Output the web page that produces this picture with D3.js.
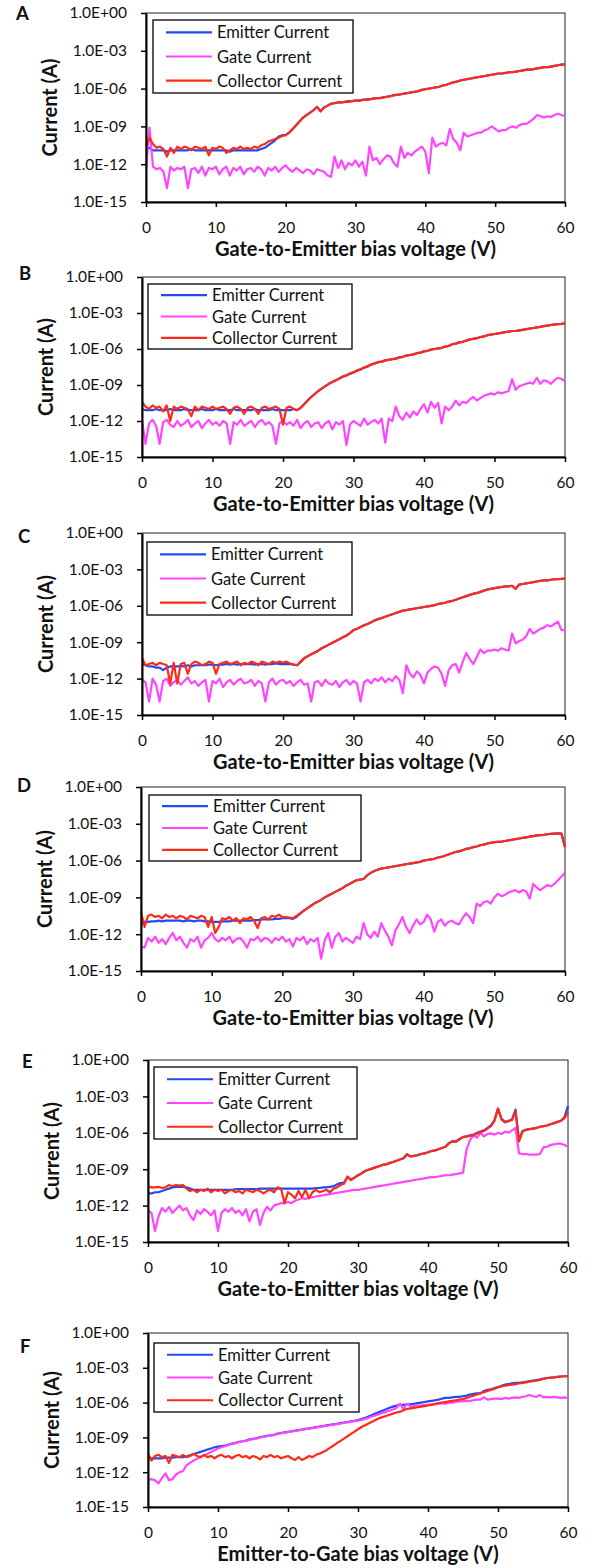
<!DOCTYPE html>
<html>
<head>
<meta charset="utf-8">
<script src="https://cdn.jsdelivr.net/npm/d3@7"></script>
<style>
  body { margin: 0; background: #fff; }
  svg text { font-family: Lato, "Open Sans", sans-serif; fill: #111; }
</style>
</head>
<body>
<svg id="fig" width="595" height="1568"></svg>
<script>
// sweep voltage, 0.5 V steps (121 points)
const voltage = d3.range(121).map(i => i * 0.5);

const xTickValues = [0, 10, 20, 30, 40, 50, 60];
const yTickValues = [1e-15, 1e-12, 1e-9, 1e-6, 1e-3, 1];
const yTickLabels = ["1.0E-15", "1.0E-12", "1.0E-09", "1.0E-06", "1.0E-03", "1.0E+00"];
const seriesNames = ["Emitter Current", "Gate Current", "Collector Current"];
const seriesColors = ["#2448f2", "#ff45ff", "#ff2b18"];
const panelLetters = ["A", "B", "C", "D", "E", "F"];
const xTitles = [
  "Gate-to-Emitter bias voltage (V)", "Gate-to-Emitter bias voltage (V)",
  "Gate-to-Emitter bias voltage (V)", "Gate-to-Emitter bias voltage (V)",
  "Gate-to-Emitter bias voltage (V)", "Emitter-to-Gate bias voltage (V)"
];

// currents as log10(A)
const emitterA = [
  -10.8,-10.7,-10.9,-10.9,-10.9,-10.9,-11.0,-10.9,-10.9,-10.9,
  -10.9,-10.9,-10.9,-10.8,-10.9,-10.9,-10.9,-10.9,-10.9,-10.9,
  -10.9,-10.9,-10.9,-10.9,-11.0,-10.9,-10.9,-10.9,-10.9,-10.9,
  -10.9,-10.9,-10.9,-10.8,-10.7,-10.5,-10.3,-10.1,-9.8,-9.7,
  -9.7,-9.5,-9.2,-8.9,-8.6,-8.3,-8.1,-7.9,-7.7,-7.45,
  -7.8,-7.5,-7.35,-7.2,-7.15,-7.1,-7.1,-7.05,-7.0,-7.0,
  -6.95,-6.95,-6.9,-6.85,-6.85,-6.8,-6.75,-6.75,-6.7,-6.65,
  -6.6,-6.5,-6.5,-6.45,-6.4,-6.35,-6.3,-6.25,-6.2,-6.1,
  -6.05,-6.0,-5.95,-5.9,-5.85,-5.75,-5.7,-5.6,-5.5,-5.45,
  -5.35,-5.3,-5.25,-5.2,-5.15,-5.1,-5.05,-5.0,-4.95,-4.9,
  -4.85,-4.8,-4.8,-4.75,-4.7,-4.7,-4.65,-4.6,-4.55,-4.5,
  -4.5,-4.45,-4.4,-4.35,-4.3,-4.3,-4.25,-4.2,-4.15,-4.1,
  -4.07
];
const gateA = [
  -12.3,-9.1,-12.2,-12.4,-12.3,-12.6,-13.9,-12.2,-12.5,-12.3,
  -12.4,-12.2,-13.9,-12.4,-12.3,-12.7,-12.2,-12.9,-12.3,-12.4,
  -12.2,-12.8,-12.4,-12.2,-12.9,-12.3,-12.5,-12.2,-12.8,-12.4,
  -12.3,-12.6,-12.2,-12.4,-12.9,-12.3,-12.5,-12.2,-12.6,-12.3,
  -12.1,-12.4,-12.6,-12.3,-12.5,-12.7,-12.4,-12.5,-12.8,-12.4,
  -12.5,-12.6,-12.9,-13.0,-11.4,-12.3,-11.7,-12.4,-11.9,-12.1,
  -11.7,-12.2,-11.8,-12.9,-10.6,-11.7,-11.5,-12.0,-11.6,-11.3,
  -11.4,-11.9,-12.2,-10.6,-11.5,-11.1,-11.3,-11.0,-10.8,-10.6,
  -11.0,-12.7,-9.9,-10.6,-10.4,-10.3,-10.5,-9.2,-10.0,-10.3,
  -10.9,-9.5,-9.8,-9.7,-9.6,-9.5,-9.5,-9.3,-9.2,-9.0,
  -9.2,-9.4,-9.3,-9.3,-9.1,-9.0,-9.1,-8.9,-8.8,-8.8,
  -8.6,-8.4,-8.1,-8.2,-8.3,-8.2,-8.25,-8.1,-8.0,-8.1,
  -8.2
];
const collectorA = [
  -10.5,-9.9,-10.4,-10.7,-10.6,-10.8,-11.4,-10.7,-11.1,-10.6,
  -10.8,-10.6,-10.7,-10.9,-10.6,-10.7,-10.8,-10.6,-11.3,-10.7,
  -10.8,-10.6,-10.7,-11.1,-10.9,-10.7,-10.8,-10.6,-10.8,-10.7,
  -10.8,-10.6,-10.7,-10.5,-10.4,-10.2,-10.1,-10.0,-9.9,-9.75,
  -9.7,-9.5,-9.2,-8.9,-8.6,-8.3,-8.1,-7.9,-7.7,-7.45,
  -7.8,-7.5,-7.35,-7.2,-7.15,-7.1,-7.1,-7.05,-7.05,-7.0,
  -6.95,-6.95,-6.9,-6.9,-6.85,-6.8,-6.75,-6.75,-6.7,-6.65,
  -6.6,-6.55,-6.5,-6.45,-6.4,-6.35,-6.3,-6.25,-6.2,-6.1,
  -6.05,-6.0,-5.95,-5.9,-5.85,-5.75,-5.7,-5.6,-5.5,-5.45,
  -5.35,-5.3,-5.25,-5.2,-5.15,-5.1,-5.05,-5.0,-4.95,-4.9,
  -4.85,-4.8,-4.8,-4.75,-4.7,-4.7,-4.65,-4.6,-4.55,-4.5,
  -4.5,-4.45,-4.4,-4.35,-4.3,-4.3,-4.25,-4.2,-4.15,-4.1,
  -4.07
];

const emitterB = [
  -11.0,-11.1,-11.1,-11.1,-11.0,-11.1,-11.1,-11.1,-11.0,-11.1,
  -11.1,-11.1,-11.0,-11.1,-11.1,-11.1,-11.1,-11.0,-11.1,-11.1,
  -11.1,-11.0,-11.1,-11.1,-11.1,-11.1,-11.0,-11.1,-11.1,-11.1,
  -11.1,-11.1,-11.0,-11.1,-11.1,-11.1,-11.1,-11.0,-11.1,-11.1,
  -11.1,-11.1,-11.1,-11.0,-11.1,-10.9,-10.6,-10.3,-10.0,-9.75,
  -9.5,-9.3,-9.1,-8.9,-8.75,-8.6,-8.45,-8.3,-8.2,-8.05,
  -7.95,-7.8,-7.7,-7.55,-7.45,-7.3,-7.2,-7.1,-7.05,-6.95,
  -6.9,-6.85,-6.8,-6.7,-6.65,-6.55,-6.5,-6.45,-6.35,-6.3,
  -6.2,-6.15,-6.05,-6.0,-5.95,-5.9,-5.8,-5.75,-5.6,-5.55,
  -5.45,-5.4,-5.3,-5.2,-5.15,-5.1,-5.0,-4.95,-4.85,-4.8,
  -4.75,-4.7,-4.65,-4.6,-4.55,-4.5,-4.5,-4.45,-4.4,-4.35,
  -4.3,-4.25,-4.2,-4.15,-4.1,-4.05,-4.0,-3.95,-3.93,-3.9,
  -3.86
];
const gateB = [
  -12.0,-13.9,-12.2,-11.9,-12.4,-13.9,-12.1,-11.9,-12.3,-12.5,
  -12.0,-12.4,-12.2,-11.9,-12.5,-12.2,-12.0,-12.6,-12.2,-11.9,
  -12.3,-12.1,-12.4,-12.0,-12.2,-13.9,-12.1,-12.3,-11.9,-12.4,
  -12.2,-12.0,-12.5,-12.1,-11.9,-12.3,-12.1,-12.4,-13.9,-12.2,
  -12.0,-12.3,-12.1,-12.4,-11.9,-12.6,-12.2,-12.0,-12.5,-12.2,
  -12.1,-12.6,-12.2,-12.0,-12.7,-12.1,-12.3,-12.0,-14.0,-12.3,
  -12.0,-12.2,-12.4,-11.8,-12.3,-12.1,-11.9,-12.2,-11.8,-13.8,
  -11.8,-12.0,-10.8,-11.6,-11.9,-11.3,-11.7,-11.2,-11.5,-11.0,
  -10.6,-11.3,-10.4,-10.9,-10.5,-12.2,-10.8,-11.1,-10.8,-10.3,
  -10.7,-10.4,-10.5,-10.2,-10.0,-10.3,-10.1,-9.9,-9.8,-9.7,
  -9.8,-9.6,-9.7,-9.6,-9.5,-8.5,-9.4,-9.1,-9.0,-8.9,
  -8.8,-8.9,-8.4,-8.9,-8.6,-8.7,-8.9,-8.6,-8.4,-8.5,
  -8.7
];
const collectorB = [
  -10.4,-10.8,-11.0,-10.7,-10.9,-10.8,-11.2,-10.7,-12.0,-10.8,
  -11.0,-10.8,-10.9,-11.0,-11.6,-10.8,-11.1,-10.8,-10.9,-11.0,
  -10.8,-11.0,-10.9,-10.8,-11.0,-11.4,-10.9,-10.8,-11.0,-11.4,
  -10.9,-10.8,-11.0,-11.4,-10.9,-10.8,-11.0,-10.9,-10.8,-11.0,
  -12.3,-10.9,-10.8,-11.0,-11.1,-10.9,-10.6,-10.3,-10.0,-9.75,
  -9.5,-9.3,-9.1,-8.9,-8.75,-8.6,-8.45,-8.3,-8.2,-8.05,
  -7.95,-7.8,-7.7,-7.55,-7.45,-7.3,-7.2,-7.1,-7.05,-6.95,
  -6.9,-6.85,-6.8,-6.7,-6.65,-6.55,-6.5,-6.45,-6.35,-6.3,
  -6.2,-6.15,-6.05,-6.0,-5.95,-5.9,-5.8,-5.75,-5.6,-5.55,
  -5.45,-5.4,-5.3,-5.2,-5.15,-5.1,-5.0,-4.95,-4.85,-4.8,
  -4.75,-4.7,-4.65,-4.6,-4.55,-4.5,-4.5,-4.45,-4.4,-4.35,
  -4.3,-4.25,-4.2,-4.15,-4.1,-4.05,-4.0,-3.95,-3.93,-3.9,
  -3.86
];

const emitterC = [
  -10.8,-10.9,-11.0,-11.0,-11.1,-11.1,-11.3,-11.1,-11.0,-11.0,
  -11.0,-10.95,-11.0,-10.9,-11.0,-10.9,-10.9,-10.9,-10.9,-10.85,
  -10.85,-10.9,-10.85,-10.85,-10.8,-10.85,-10.8,-10.85,-10.8,-10.8,
  -10.8,-10.8,-10.85,-10.8,-10.8,-10.85,-10.8,-10.8,-10.75,-10.8,
  -10.8,-10.8,-10.8,-10.85,-10.9,-10.65,-10.35,-10.15,-10.0,-9.85,
  -9.7,-9.5,-9.35,-9.2,-9.05,-8.9,-8.75,-8.6,-8.45,-8.25,
  -8.0,-7.9,-7.75,-7.6,-7.5,-7.35,-7.2,-7.1,-7.0,-6.9,
  -6.8,-6.7,-6.6,-6.5,-6.4,-6.35,-6.3,-6.25,-6.2,-6.15,
  -6.1,-6.05,-6.0,-5.95,-5.85,-5.8,-5.75,-5.65,-5.6,-5.5,
  -5.4,-5.3,-5.2,-5.1,-5.0,-4.95,-4.85,-4.75,-4.65,-4.6,
  -4.55,-4.5,-4.45,-4.4,-4.4,-4.35,-4.6,-4.25,-4.2,-4.15,
  -4.1,-4.05,-4.0,-3.95,-3.9,-3.9,-3.85,-3.8,-3.8,-3.78,
  -3.75
];
const gateC = [
  -12.1,-12.3,-13.9,-12.0,-12.5,-13.9,-12.2,-12.0,-12.6,-12.3,
  -12.1,-12.5,-12.2,-11.9,-12.4,-12.2,-12.6,-12.3,-12.1,-13.9,
  -12.2,-12.4,-12.0,-12.7,-12.3,-12.1,-12.5,-12.2,-12.0,-12.4,
  -12.3,-12.1,-12.6,-12.2,-12.4,-13.9,-12.3,-12.0,-12.5,-12.2,
  -12.1,-12.4,-12.2,-12.6,-12.3,-12.1,-12.5,-12.4,-13.9,-12.3,
  -12.2,-12.6,-12.1,-12.4,-12.5,-12.2,-12.7,-12.3,-12.1,-12.5,
  -12.2,-12.4,-13.9,-12.3,-12.1,-12.4,-12.0,-12.2,-11.9,-12.3,
  -12.0,-12.2,-11.8,-12.1,-13.2,-10.9,-11.6,-11.9,-11.4,-11.7,
  -12.4,-11.5,-11.2,-11.0,-11.1,-11.6,-12.6,-11.3,-10.9,-10.8,
  -11.5,-10.6,-9.9,-10.4,-10.8,-10.2,-9.6,-9.9,-9.7,-9.7,
  -9.6,-9.7,-9.5,-9.6,-9.7,-8.3,-9.1,-8.9,-8.8,-8.5,
  -7.9,-8.3,-8.1,-7.9,-7.8,-7.6,-7.7,-7.5,-7.3,-8.0,
  -8.0
];
const collectorC = [
  -10.3,-10.9,-10.8,-10.7,-10.9,-10.7,-10.8,-10.9,-12.4,-10.7,
  -12.4,-10.8,-10.7,-11.6,-10.8,-10.6,-10.7,-10.9,-10.8,-10.6,
  -10.7,-11.6,-10.8,-10.7,-10.6,-10.8,-10.7,-10.6,-10.9,-10.7,
  -10.8,-10.6,-10.7,-10.9,-10.6,-10.7,-10.8,-10.6,-10.7,-10.6,
  -10.7,-10.6,-10.75,-10.85,-10.9,-10.6,-10.3,-10.15,-10.0,-9.85,
  -9.7,-9.5,-9.35,-9.2,-9.05,-8.9,-8.75,-8.6,-8.45,-8.25,
  -8.0,-7.9,-7.75,-7.6,-7.5,-7.35,-7.2,-7.1,-7.0,-6.9,
  -6.8,-6.7,-6.6,-6.5,-6.4,-6.35,-6.3,-6.25,-6.2,-6.15,
  -6.1,-6.05,-6.0,-5.95,-5.85,-5.8,-5.75,-5.65,-5.6,-5.5,
  -5.4,-5.3,-5.2,-5.1,-5.0,-4.95,-4.85,-4.75,-4.65,-4.6,
  -4.55,-4.5,-4.45,-4.4,-4.4,-4.35,-4.6,-4.25,-4.2,-4.15,
  -4.1,-4.05,-4.0,-3.95,-3.9,-3.9,-3.85,-3.8,-3.8,-3.78,
  -3.75
];

const emitterD = [
  -11.2,-11.0,-11.0,-10.95,-10.95,-10.9,-10.95,-10.9,-10.9,-10.9,
  -10.9,-10.9,-10.95,-10.9,-10.9,-10.95,-10.9,-10.9,-10.95,-10.95,
  -11.0,-11.0,-11.0,-10.95,-10.95,-10.95,-10.9,-10.9,-10.9,-10.9,
  -10.9,-10.9,-10.85,-10.85,-10.8,-10.8,-10.8,-10.8,-10.75,-10.75,
  -10.7,-10.7,-10.7,-10.75,-10.6,-10.35,-10.1,-9.9,-9.7,-9.5,
  -9.35,-9.2,-9.0,-8.85,-8.7,-8.55,-8.4,-8.25,-8.05,-7.9,
  -7.75,-7.6,-7.55,-7.5,-7.2,-7.0,-6.85,-6.75,-6.65,-6.6,
  -6.55,-6.5,-6.45,-6.4,-6.35,-6.3,-6.25,-6.2,-6.15,-6.1,
  -6.0,-5.95,-5.9,-5.85,-5.75,-5.7,-5.6,-5.5,-5.4,-5.3,
  -5.25,-5.15,-5.05,-5.0,-4.9,-4.85,-4.75,-4.7,-4.6,-4.55,
  -4.5,-4.47,-4.45,-4.4,-4.35,-4.3,-4.25,-4.2,-4.15,-4.1,
  -4.05,-4.0,-3.95,-3.92,-3.9,-3.85,-3.82,-3.8,-3.78,-3.8,
  -4.9
];
const gateD = [
  -13.0,-13.1,-12.3,-12.6,-12.2,-12.7,-12.4,-12.8,-12.3,-11.9,
  -12.5,-12.2,-12.7,-13.1,-12.4,-12.6,-12.2,-13.1,-12.5,-12.3,
  -11.9,-12.4,-12.6,-12.3,-12.5,-12.2,-12.7,-12.4,-12.3,-12.6,
  -13.1,-12.4,-12.5,-12.2,-12.6,-12.3,-12.4,-12.7,-12.3,-12.5,
  -12.2,-12.6,-12.4,-13.0,-12.3,-12.5,-12.2,-12.8,-12.4,-12.6,
  -12.3,-14.0,-12.5,-11.9,-13.1,-12.2,-11.9,-12.6,-12.3,-12.5,
  -12.7,-12.2,-12.4,-11.1,-12.0,-12.3,-11.8,-12.2,-11.1,-11.7,
  -12.2,-12.9,-11.7,-11.2,-10.6,-11.4,-11.9,-11.3,-10.8,-11.2,
  -11.0,-10.4,-10.8,-11.8,-11.0,-10.8,-11.3,-11.0,-10.9,-11.1,
  -11.2,-10.7,-10.3,-10.6,-11.1,-9.5,-9.7,-9.4,-9.3,-9.5,
  -9.0,-8.7,-8.9,-8.8,-8.6,-8.5,-8.4,-8.6,-8.4,-8.5,
  -9.1,-7.9,-8.2,-8.4,-8.2,-8.0,-8.1,-7.9,-7.6,-7.3,
  -7.0
];
const collectorD = [
  -10.2,-11.4,-10.5,-10.4,-10.6,-10.5,-10.7,-10.4,-10.6,-10.5,
  -10.7,-10.5,-10.6,-10.8,-10.5,-10.6,-10.7,-10.5,-10.6,-11.4,
  -10.6,-11.9,-11.4,-10.7,-10.8,-10.6,-10.9,-10.7,-11.1,-10.7,
  -10.8,-10.6,-10.9,-11.5,-10.7,-10.6,-10.8,-10.5,-10.6,-10.4,
  -10.6,-10.6,-10.65,-10.7,-10.5,-10.3,-10.1,-9.9,-9.7,-9.5,
  -9.35,-9.2,-9.0,-8.85,-8.7,-8.55,-8.4,-8.25,-8.05,-7.9,
  -7.75,-7.6,-7.55,-7.5,-7.2,-7.0,-6.85,-6.75,-6.65,-6.6,
  -6.55,-6.5,-6.45,-6.4,-6.35,-6.3,-6.25,-6.2,-6.15,-6.1,
  -6.0,-5.95,-5.9,-5.85,-5.75,-5.7,-5.6,-5.5,-5.4,-5.3,
  -5.25,-5.15,-5.05,-5.0,-4.9,-4.85,-4.75,-4.7,-4.6,-4.55,
  -4.5,-4.47,-4.45,-4.4,-4.35,-4.3,-4.25,-4.2,-4.15,-4.1,
  -4.05,-4.0,-3.95,-3.92,-3.9,-3.85,-3.82,-3.8,-3.78,-3.8,
  -4.9
];

const emitterE = [
  -11.0,-11.0,-10.9,-10.9,-10.8,-10.7,-10.6,-10.5,-10.45,-10.45,
  -10.45,-10.5,-10.6,-10.7,-10.7,-10.7,-10.7,-10.7,-10.7,-10.7,
  -10.7,-10.7,-10.7,-10.7,-10.7,-10.65,-10.65,-10.65,-10.65,-10.65,
  -10.65,-10.65,-10.6,-10.6,-10.6,-10.6,-10.6,-10.6,-10.6,-10.6,
  -10.6,-10.6,-10.6,-10.6,-10.6,-10.6,-10.6,-10.6,-10.55,-10.55,
  -10.5,-10.5,-10.45,-10.4,-10.25,-10.15,-10.1,-9.65,-9.85,-9.7,
  -9.5,-9.35,-9.15,-9.05,-8.95,-8.85,-8.75,-8.65,-8.6,-8.5,
  -8.4,-8.3,-8.2,-8.1,-7.8,-7.95,-7.9,-7.85,-7.75,-7.7,
  -7.6,-7.5,-7.45,-7.35,-7.25,-7.15,-6.85,-6.7,-6.7,-6.5,
  -6.35,-6.3,-6.2,-6.15,-6.0,-5.9,-5.8,-5.6,-5.4,-4.95,
  -4.0,-4.85,-5.1,-5.0,-4.9,-4.1,-6.6,-5.85,-5.75,-5.7,
  -5.65,-5.6,-5.5,-5.45,-5.4,-5.3,-5.2,-5.1,-5.0,-4.7,
  -3.8
];
const gateE = [
  -12.4,-12.6,-14.1,-12.9,-12.2,-12.5,-12.1,-12.6,-12.3,-12.0,
  -12.4,-12.2,-12.8,-13.2,-12.4,-12.7,-12.3,-12.5,-12.8,-12.4,
  -14.1,-12.6,-12.3,-12.5,-12.2,-12.6,-12.4,-12.8,-12.3,-13.3,
  -12.5,-12.3,-13.6,-12.6,-12.1,-12.4,-12.0,-11.9,-11.8,-11.8,
  -11.7,-11.8,-11.6,-11.5,-11.4,-11.45,-11.35,-11.3,-11.25,-11.2,
  -11.15,-11.1,-11.05,-11.0,-10.95,-10.9,-10.85,-10.8,-10.75,-10.7,
  -10.7,-10.65,-10.6,-10.55,-10.5,-10.45,-10.4,-10.35,-10.3,-10.25,
  -10.2,-10.15,-10.1,-10.05,-10.0,-9.95,-9.9,-9.85,-9.8,-9.75,
  -9.7,-9.65,-9.65,-9.6,-9.55,-9.5,-9.5,-9.45,-9.4,-9.35,
  -9.3,-7.4,-6.6,-6.2,-6.4,-6.0,-6.3,-6.1,-6.05,-6.15,
  -6.0,-6.1,-5.9,-6.0,-5.8,-5.6,-7.7,-7.75,-7.75,-7.8,
  -7.8,-7.8,-7.75,-7.2,-7.15,-7.0,-6.95,-6.9,-6.9,-7.0,
  -7.15
];
const collectorE = [
  -10.4,-10.5,-10.5,-10.45,-10.55,-10.5,-10.3,-10.4,-10.3,-10.35,
  -10.3,-10.6,-10.8,-10.7,-10.9,-10.7,-10.8,-10.6,-10.9,-10.7,
  -10.8,-10.7,-11.0,-10.8,-10.7,-10.9,-10.8,-11.0,-10.7,-10.8,
  -10.9,-10.7,-10.8,-11.0,-10.8,-10.7,-10.9,-10.5,-10.6,-11.8,
  -10.9,-11.1,-11.4,-10.8,-11.3,-10.7,-11.4,-10.9,-10.7,-10.9,
  -10.8,-10.7,-10.9,-10.6,-10.5,-10.3,-10.2,-9.6,-9.9,-9.7,
  -9.5,-9.35,-9.15,-9.05,-8.95,-8.85,-8.75,-8.65,-8.6,-8.5,
  -8.4,-8.3,-8.2,-8.1,-7.75,-7.95,-7.9,-7.85,-7.75,-7.7,
  -7.6,-7.5,-7.45,-7.35,-7.25,-7.15,-6.85,-6.7,-6.75,-6.55,
  -6.35,-6.3,-6.25,-6.2,-6.05,-5.95,-5.85,-5.65,-5.45,-5.0,
  -4.0,-4.9,-5.15,-5.05,-4.95,-4.25,-6.7,-5.9,-5.75,-5.7,
  -5.65,-5.6,-5.5,-5.45,-5.4,-5.3,-5.2,-5.1,-5.0,-4.8,
  -4.3
];

const emitterF = [
  -10.8,-10.8,-10.8,-10.8,-10.8,-10.75,-10.75,-10.75,-10.7,-10.7,
  -10.7,-10.65,-10.55,-10.45,-10.35,-10.25,-10.15,-10.05,-9.95,-9.85,
  -9.8,-9.75,-9.7,-9.62,-9.53,-9.47,-9.38,-9.33,-9.27,-9.17,
  -9.12,-9.07,-8.97,-8.92,-8.87,-8.82,-8.77,-8.67,-8.62,-8.57,
  -8.52,-8.47,-8.42,-8.37,-8.32,-8.27,-8.22,-8.17,-8.12,-8.07,
  -8.02,-7.97,-7.92,-7.87,-7.82,-7.77,-7.72,-7.67,-7.62,-7.57,
  -7.5,-7.42,-7.32,-7.2,-7.08,-6.95,-6.82,-6.7,-6.58,-6.45,
  -6.35,-6.25,-6.2,-6.2,-6.15,-6.15,-6.1,-6.05,-6.0,-5.95,
  -5.9,-5.85,-5.8,-5.75,-5.65,-5.6,-5.6,-5.55,-5.5,-5.5,
  -5.45,-5.4,-5.3,-5.25,-5.2,-5.2,-5.0,-4.9,-4.85,-4.75,
  -4.65,-4.55,-4.45,-4.4,-4.35,-4.3,-4.3,-4.25,-4.2,-4.15,
  -4.1,-4.05,-4.0,-3.92,-3.88,-3.85,-3.82,-3.78,-3.75,-3.73,
  -3.71
];
const gateF = [
  -12.7,-12.6,-12.7,-12.96,-12.5,-12.1,-12.7,-12.6,-12.2,-12.0,
  -11.9,-11.4,-11.2,-11.0,-10.85,-10.7,-10.55,-10.4,-10.25,-10.1,
  -9.95,-9.85,-9.75,-9.65,-9.55,-9.5,-9.4,-9.35,-9.3,-9.2,
  -9.15,-9.1,-9.0,-8.95,-8.9,-8.85,-8.8,-8.7,-8.65,-8.6,
  -8.55,-8.5,-8.45,-8.4,-8.35,-8.3,-8.25,-8.2,-8.15,-8.1,
  -8.05,-8.0,-7.95,-7.9,-7.85,-7.8,-7.75,-7.7,-7.65,-7.6,
  -7.55,-7.5,-7.4,-7.3,-7.2,-7.1,-7.0,-6.9,-6.8,-6.7,
  -6.6,-6.45,-6.1,-6.55,-6.1,-6.35,-6.3,-6.25,-6.25,-6.2,
  -6.2,-6.15,-6.15,-6.1,-6.05,-6.1,-6.0,-6.0,-5.95,-5.9,
  -5.9,-5.85,-5.85,-5.8,-5.75,-5.75,-5.55,-5.75,-5.7,-5.65,
  -5.65,-5.7,-5.6,-5.65,-5.6,-5.55,-5.6,-5.5,-5.45,-5.35,
  -5.45,-5.5,-5.35,-5.55,-5.5,-5.55,-5.5,-5.55,-5.6,-5.55,
  -5.6
];
const collectorF = [
  -10.4,-11.0,-10.6,-10.5,-10.7,-10.6,-11.2,-10.5,-10.6,-10.7,
  -10.5,-10.7,-10.6,-10.4,-10.6,-10.7,-10.5,-10.7,-10.6,-10.8,
  -10.6,-10.5,-10.7,-10.6,-10.8,-10.6,-10.5,-10.7,-10.6,-10.8,
  -10.6,-10.7,-10.9,-10.6,-10.7,-10.5,-10.7,-10.6,-10.8,-10.7,
  -10.6,-10.8,-10.95,-10.7,-10.95,-10.8,-10.6,-10.7,-10.5,-10.4,
  -10.25,-10.1,-9.9,-9.7,-9.5,-9.3,-9.1,-8.9,-8.7,-8.5,
  -8.3,-8.1,-7.95,-7.8,-7.65,-7.5,-7.35,-7.25,-7.15,-7.05,
  -6.95,-6.85,-6.8,-6.65,-6.55,-6.5,-6.45,-6.4,-6.35,-6.3,
  -6.25,-6.2,-6.1,-6.05,-6.0,-5.95,-5.9,-5.85,-5.8,-5.75,
  -5.7,-5.6,-5.5,-5.4,-5.3,-5.2,-5.1,-5.0,-4.9,-4.8,
  -4.7,-4.6,-4.55,-4.5,-4.45,-4.4,-4.35,-4.3,-4.25,-4.2,
  -4.15,-4.1,-4.05,-3.95,-3.9,-3.86,-3.82,-3.78,-3.75,-3.73,
  -3.71
];

const panelSeries = [
  [emitterA, gateA, collectorA],
  [emitterB, gateB, collectorB],
  [emitterC, gateC, collectorC],
  [emitterD, gateD, collectorD],
  [emitterE, gateE, collectorE],
  [emitterF, gateF, collectorF]
];

// layout of each panel in the page (pixels)
const layout = [
  { left: 146, right: 565, top: 13,   bottom: 202,  legend: [153, 20, 200, 73],   letter: [16, 20] },
  { left: 142, right: 565, top: 277,  bottom: 457,  legend: [148, 284, 204, 65],  letter: [19, 280] },
  { left: 142, right: 565, top: 533,  bottom: 715,  legend: [147, 542, 205, 73],  letter: [18, 543] },
  { left: 141, right: 565, top: 787,  bottom: 971,  legend: [149, 795, 212, 66],  letter: [17, 792] },
  { left: 148, right: 568, top: 1060, bottom: 1242, legend: [154, 1067, 203, 72], letter: [22, 1068] },
  { left: 148, right: 568, top: 1333, bottom: 1507, legend: [154, 1343, 205, 69], letter: [20, 1353] }
];

const svg = d3.select("#fig");

layout.forEach((L, p) => {
  const g = svg.append("g");
  const x = d3.scaleLinear().domain([0, 60]).range([L.left, L.right]);
  const y = d3.scaleLog().domain([1e-15, 1]).range([L.bottom, L.top]);

  // plot frame (top / right edges)
  g.append("rect")
    .attr("x", L.left).attr("y", L.top)
    .attr("width", L.right - L.left).attr("height", L.bottom - L.top)
    .attr("fill", "none").attr("stroke", "#222").attr("stroke-width", 1);

  // series: emitter, gate, collector (collector drawn last)
  const line = d3.line()
    .x((d, i) => x(voltage[i]))
    .y(d => y(Math.pow(10, d)));
  panelSeries[p].forEach((vals, s) => {
    g.append("path")
      .datum(vals)
      .attr("d", line)
      .attr("fill", "none")
      .attr("stroke", seriesColors[s])
      .attr("stroke-width", 2.2)
      .attr("stroke-linejoin", "round");
  });

  // axes
  const yAxis = d3.axisLeft(y)
    .tickValues(yTickValues)
    .tickFormat((d, i) => yTickLabels[i])
    .tickSize(5).tickSizeOuter(0).tickPadding(14);
  const xAxis = d3.axisBottom(x)
    .tickValues(xTickValues)
    .tickSize(5).tickSizeOuter(0).tickPadding(15);

  const ya = g.append("g").attr("transform", `translate(${L.left},0)`).call(yAxis);
  const xa = g.append("g").attr("transform", `translate(0,${L.bottom})`).call(xAxis);
  [ya, xa].forEach(a => {
    a.select(".domain").attr("stroke", "#000").attr("stroke-width", 2);
    a.selectAll(".tick line").attr("stroke", "#000").attr("stroke-width", 1.5);
    a.selectAll(".tick text")
      .style("font-family", "Lato, sans-serif")
      .style("font-size", "15.5px")
      .attr("fill", "#111");
  });

  // axis titles
  g.append("text")
    .attr("transform", `translate(${L.left - 97},${(L.top + L.bottom) / 2}) rotate(-90)`)
    .attr("text-anchor", "middle")
    .attr("dominant-baseline", "central")
    .style("font-size", "20px")
    .style("font-weight", "bold")
    .text("Current (A)");

  g.append("text")
    .attr("x", (L.left + L.right) / 2)
    .attr("y", L.bottom + 46)
    .attr("text-anchor", "middle")
    .attr("dominant-baseline", "central")
    .style("font-size", "20px")
    .style("font-weight", "bold")
    .text(xTitles[p]);

  // panel letter
  g.append("text")
    .attr("x", L.letter[0]).attr("y", L.letter[1])
    .style("font-size", "18.5px")
    .style("font-weight", "bold")
    .text(panelLetters[p]);

  // legend
  const [lx, ly, lw, lh] = L.legend;
  const lg = g.append("g");
  lg.append("rect")
    .attr("x", lx).attr("y", ly).attr("width", lw).attr("height", lh)
    .attr("fill", "#fff").attr("stroke", "#000").attr("stroke-width", 1.3);
  seriesNames.forEach((name, s) => {
    const cy = ly + lh * [0.17, 0.5, 0.83][s];
    lg.append("line")
      .attr("x1", lx + 13).attr("x2", lx + 59)
      .attr("y1", cy).attr("y2", cy)
      .attr("stroke", seriesColors[s]).attr("stroke-width", 2.2);
    lg.append("text")
      .attr("x", lx + 64).attr("y", cy)
      .attr("dominant-baseline", "central")
      .style("font-size", "16.5px")
      .text(name);
  });
});
</script>
</body>
</html>
